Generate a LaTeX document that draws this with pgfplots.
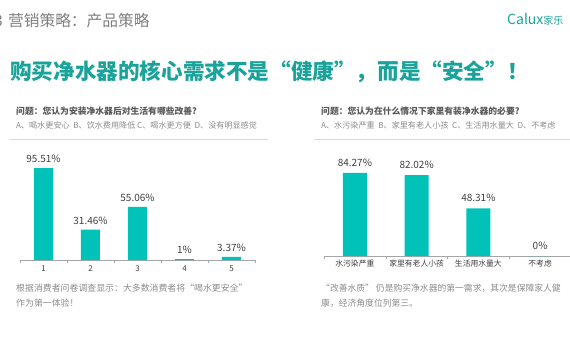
\documentclass[border=0pt]{standalone}
\usepackage{pgfplots}
\pgfplotsset{compat=1.18}
\usepackage{fontspec}
\setmainfont{Noto Sans CJK SC}
\definecolor{barteal}{RGB}{0,194,184}
\definecolor{titleteal}{RGB}{26,163,154}
\definecolor{hdrgray}{RGB}{128,128,128}
\definecolor{qgray}{RGB}{89,89,89}
\definecolor{optgray}{RGB}{140,140,140}
\definecolor{darkg}{RGB}{64,64,64}
\definecolor{axgray}{RGB}{166,166,166}
\definecolor{sepgray}{RGB}{217,217,217}
\begin{document}
\begin{tikzpicture}[x=1pt,y=1pt]
\useasboundingbox (0pt,0pt) rectangle (570pt,360pt);
\clip (0pt,0pt) rectangle (570pt,360pt);
\fill[white] (0pt,0pt) rectangle (570pt,360pt);
% header
\node[anchor=east,inner sep=0,text=hdrgray,font=\fontsize{15.7}{15.7}\selectfont] at (3pt,339pt) {3};
\node[anchor=west,inner sep=0,text=hdrgray,font=\fontsize{15.7}{15.7}\selectfont] at (8pt,339pt) {营销策略：产品策略};
\node[anchor=west,inner sep=0,text=titleteal,font=\fontsize{14}{14}\selectfont] at (507pt,341pt) {Calux\fontsize{10}{10}\selectfont 家乐};
% title
\node[anchor=west,inner sep=0,text=titleteal,font=\fontsize{21.6}{21.6}\selectfont\bfseries] at (10pt,288pt) {购买净水器的核心需求不是“健康”，而是“安全”！};
% left question
\node[anchor=west,inner sep=0,text=qgray,font=\fontsize{8.8}{8.8}\selectfont\bfseries] at (16pt,249pt) {问题：您认为安装净水器后对生活有哪些改善?};
\node[anchor=west,inner sep=0,text=optgray,font=\fontsize{8.1}{8.1}\selectfont] at (16pt,235pt) {A、喝水更安心\ \ B、饮水费用降低 C、喝水更方便\ \ D、没有明显感觉};
\draw[sepgray,line width=0.8pt] (9pt,221pt) -- (268pt,221pt);
% right question
\node[anchor=west,inner sep=0,text=qgray,font=\fontsize{8.8}{8.8}\selectfont\bfseries] at (321pt,249pt) {问题：您认为在什么情况下家里有装净水器的必要?};
\node[anchor=west,inner sep=0,text=optgray,font=\fontsize{8.1}{8.1}\selectfont] at (321pt,235pt) {A、水污染严重\ \ B、家里有老人小孩\ \ C、生活用水量大\ \ D、不考虑};
\draw[sepgray,line width=0.8pt] (314pt,221pt) -- (570pt,221pt);
% bottom texts
\node[anchor=west,inner sep=0,text=optgray,font=\fontsize{8.9}{8.9}\selectfont] at (16pt,72pt) {根据消费者问卷调查显示：大多数消费者将“喝水更安全”};
\node[anchor=west,inner sep=0,text=optgray,font=\fontsize{8.9}{8.9}\selectfont] at (16pt,57pt) {作为第一体验！};
\node[anchor=west,inner sep=0,text=optgray,font=\fontsize{8.8}{8.8}\selectfont] at (321pt,72pt) {“改善水质” 仍是购买净水器的第一需求，其次是保障家人健};
\node[anchor=west,inner sep=0,text=optgray,font=\fontsize{8.8}{8.8}\selectfont] at (321pt,57pt) {康，经济角度位列第三。};
% left chart
\begin{axis}[at={(20pt,100pt)}, anchor=south west, scale only axis,
  width=235pt, height=96.3pt, xmin=0.5, xmax=5.5, ymin=0, ymax=100,
  axis y line=none, axis x line*=bottom,
  axis line style={draw=axgray,-},
  /pgf/number format/assume math mode=true,
  xtick={1,2,3,4,5}, minor xtick={0.5,1.5,2.5,3.5,4.5,5.5},
  major tick length=0pt, minor tick length=3pt, tick align=outside,
  minor tick style={axgray},
  xticklabel style={font=\fontsize{8}{8}\selectfont, text=darkg, yshift=-2pt},
  ybar, bar width=19pt, clip=false,
  nodes near coords, point meta=explicit symbolic,
  every node near coord/.append style={font=\fontsize{10}{10}\selectfont, text=darkg, yshift=2pt}]
\addplot[fill=barteal, draw=none] coordinates {
 (1,95.51) [95.51\%]
 (2,31.46) [31.46\%]
 (3,55.06) [55.06\%]
 (4,1) [1\%]
 (5,3.37) [3.37\%]
};
\end{axis}
% right chart
\begin{axis}[at={(324pt,104pt)}, anchor=south west, scale only axis,
  width=247pt, height=98.5pt, xmin=0.5, xmax=4.5, ymin=0, ymax=100,
  axis y line=none, axis x line*=bottom,
  axis line style={draw=axgray,-},
  xtick={1,2,3,4}, xticklabels={水污染严重,家里有老人小孩,生活用水量大,不考虑},
  minor xtick={0.5,1.5,2.5,3.5,4.5},
  major tick length=0pt, minor tick length=3pt, tick align=outside,
  minor tick style={axgray},
  xticklabel style={font=\fontsize{7.8}{7.8}\selectfont, text=darkg},
  ybar, bar width=24pt, clip=false,
  nodes near coords, point meta=explicit symbolic,
  every node near coord/.append style={font=\fontsize{10}{10}\selectfont, text=darkg, yshift=3pt}]
\addplot[fill=barteal, draw=none] coordinates {
 (1,84.27) [84.27\%]
 (2,82.02) [82.02\%]
 (3,48.31) [48.31\%]
 (4,0) [0\%]
};
\end{axis}
\end{tikzpicture}
\end{document}
